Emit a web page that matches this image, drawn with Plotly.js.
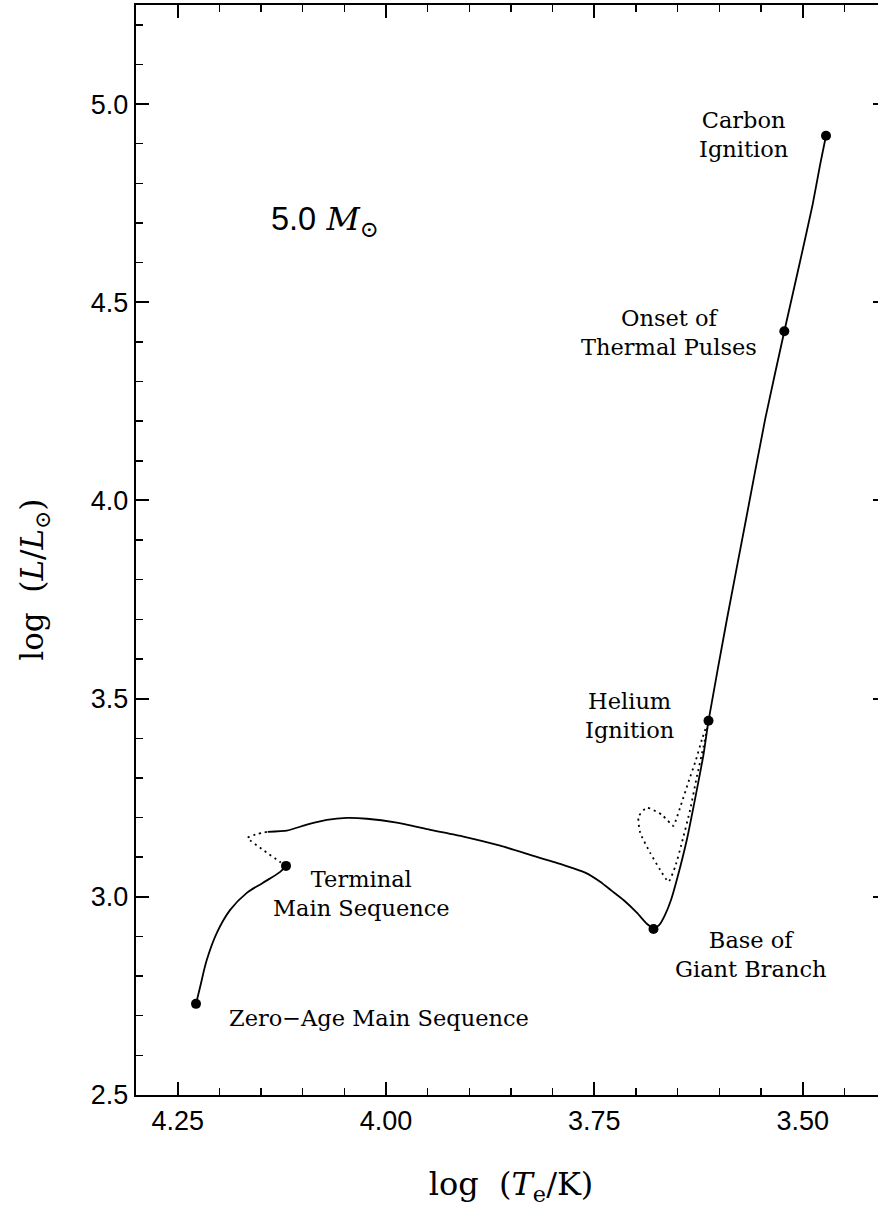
<!DOCTYPE html>
<html>
<head>
<meta charset="utf-8">
<script src="https://cdn.plot.ly/plotly-3.0.1.min.js"></script>
<style>
html, body { margin: 0; padding: 0; overflow: hidden; background: #fff; width: 878px; height: 1209px; }
#chart { width: 900px; height: 1209px; }
</style>
</head>
<body>
<div id="chart"></div>
<script>
// Main-sequence segment (solid): ZAMS -> terminal main sequence
const msLogT = [4.228, 4.223, 4.215, 4.203, 4.187, 4.167, 4.148, 4.127, 4.120];
const msLogL = [2.730, 2.773, 2.841, 2.909, 2.967, 3.010, 3.035, 3.063, 3.078];

// Overall contraction hook (dotted)
const hookLogT = [4.120, 4.127, 4.148, 4.166, 4.154, 4.142];
const hookLogL = [3.078, 3.088, 3.119, 3.149, 3.159, 3.164];

// Crossing of the Hertzsprung gap (solid) to the base of the giant branch
const gapLogT = [4.142, 4.119, 4.095, 4.071, 4.047, 4.023, 3.987, 3.947, 3.907, 3.863, 3.827, 3.791, 3.761, 3.743, 3.729, 3.715, 3.699, 3.687, 3.679];
const gapLogL = [3.164, 3.167, 3.182, 3.194, 3.199, 3.197, 3.187, 3.169, 3.152, 3.129, 3.106, 3.083, 3.061, 3.038, 3.015, 2.992, 2.960, 2.932, 2.919];

// Red giant branch and asymptotic giant branch (solid)
const giantLogT = [3.679, 3.672, 3.665, 3.658, 3.651, 3.639, 3.627, 3.619, 3.613, 3.591, 3.568, 3.545, 3.522, 3.503, 3.488, 3.479, 3.472];
const giantLogL = [2.919, 2.929, 2.955, 2.992, 3.043, 3.144, 3.270, 3.359, 3.444, 3.699, 3.952, 4.205, 4.427, 4.604, 4.747, 4.848, 4.920];

// Helium-burning blue loop (dotted)
const loopLogT = [3.613, 3.621, 3.628, 3.637, 3.646, 3.652, 3.655, 3.669, 3.687, 3.697, 3.695, 3.683, 3.671, 3.661, 3.653, 3.645, 3.635, 3.627, 3.619, 3.613];
const loopLogL = [3.444, 3.396, 3.346, 3.290, 3.232, 3.194, 3.179, 3.207, 3.225, 3.202, 3.162, 3.111, 3.068, 3.038, 3.076, 3.136, 3.220, 3.303, 3.379, 3.444];

// Evolutionary stages (marked points)
const stageNames = ["Zero\u2212Age Main Sequence", "Terminal<br>Main Sequence", "Base of<br>Giant Branch", "Helium<br>Ignition", "Onset of<br>Thermal Pulses", "Carbon<br>Ignition"];
const stageLogT = [4.228, 4.120, 3.679, 3.613, 3.522, 3.472];
const stageLogL = [2.730, 3.078, 2.919, 3.444, 4.427, 4.920];

// Label anchor positions (data coordinates)
const labelLogT = [4.009, 4.029, 3.562, 3.708, 3.660, 3.571];
const labelLogL = [2.694, 3.008, 2.854, 3.457, 4.424, 4.923];

const massValue = "5.0";
const massUnit = "<i>M</i><sub>\u2299</sub>";
const massLabelLogT = 4.073;
const massLabelLogL = 4.705;

const xTickVals = [4.25, 4.00, 3.75, 3.50];
const xTickText = ["4.25", "4.00", "3.75", "3.50"];
const yTickVals = [2.5, 3.0, 3.5, 4.0, 4.5, 5.0];
const yTickText = ["2.5", "3.0", "3.5", "4.0", "4.5", "5.0"];

const xTitle = "log  (<i>T</i><sub>e</sub>/K)";
const yTitle = "log  (<i>L</i>/<i>L</i><sub>\u2299</sub>)";

const solid = {color: "#000", width: 1.8, dash: "solid", shape: "spline", smoothing: 0.5};
const solidSmooth = {color: "#000", width: 1.8, dash: "solid", shape: "spline", smoothing: 1};
const dotted = {color: "#000", width: 1.8, dash: "2px,4px", shape: "spline", smoothing: 0.5};

const traces = [
  {x: msLogT, y: msLogL, mode: "lines", line: solidSmooth, name: "Main sequence", hoverinfo: "skip"},
  {x: hookLogT, y: hookLogL, mode: "lines", line: dotted, name: "Hook", hoverinfo: "skip"},
  {x: gapLogT, y: gapLogL, mode: "lines", line: solid, name: "Hertzsprung gap", hoverinfo: "skip"},
  {x: giantLogT, y: giantLogL, mode: "lines", line: solid, name: "Giant branch", hoverinfo: "skip"},
  {x: loopLogT, y: loopLogL, mode: "lines", line: dotted, name: "Blue loop", hoverinfo: "skip"},
  {x: stageLogT, y: stageLogL, mode: "markers", marker: {color: "#000", size: 10}, name: "Stages", hoverinfo: "skip"}
];

const labelFont = {family: "DejaVu Serif, serif", size: 22.5, color: "#000"};
const annotations = stageNames.map((s, i) => ({
  x: labelLogT[i], y: labelLogL[i], xref: "x", yref: "y",
  text: s, showarrow: false, font: labelFont, align: "center",
  xanchor: "center", yanchor: "middle"
}));
annotations.push({
  x: massLabelLogT, y: massLabelLogL, xref: "x", yref: "y",
  text: "<span style=\"font-family:'Liberation Sans', Arial, sans-serif\">" + massValue + "</span> " + massUnit,
  showarrow: false,
  font: {family: "DejaVu Serif, serif", size: 32.5, color: "#000"},
  xanchor: "center", yanchor: "middle"
});
// y-axis title placed as rotated annotation so it sits where the reference has it
annotations.push({
  x: 0, y: 0.4727, xref: "paper", yref: "paper",
  xshift: -101, text: yTitle, textangle: -90, showarrow: false,
  font: {family: "DejaVu Serif, serif", size: 31, color: "#000"},
  xanchor: "center", yanchor: "middle"
});

const tickFont = {family: "Liberation Sans, Arial, sans-serif", size: 27, color: "#000"};
const titleFont = {family: "DejaVu Serif, serif", size: 32, color: "#000"};

const layout = {
  width: 900, height: 1209,
  margin: {l: 136, r: 14, t: 5, b: 114},
  paper_bgcolor: "#fff", plot_bgcolor: "#fff",
  showlegend: false,
  xaxis: {
    range: [4.30, 3.40],
    tickmode: "array", tickvals: xTickVals, ticktext: xTickText,
    ticks: "inside", ticklen: 13, tickwidth: 2, tickcolor: "#000",
    minor: {tickmode: "linear", tick0: 3.5, dtick: 0.05, ticks: "inside", ticklen: 7, tickwidth: 1.5, tickcolor: "#000"},
    showline: true, linewidth: 2.2, linecolor: "#000", mirror: "ticks",
    showgrid: false, zeroline: false,
    tickfont: tickFont,
    title: {text: xTitle, font: titleFont, standoff: 38}
  },
  yaxis: {
    range: [2.5, 5.25],
    tickmode: "array", tickvals: yTickVals, ticktext: yTickText,
    ticks: "inside", ticklen: 13, tickwidth: 2, tickcolor: "#000",
    minor: {tickmode: "linear", tick0: 2.5, dtick: 0.1, ticks: "inside", ticklen: 7, tickwidth: 1.5, tickcolor: "#000"},
    showline: true, linewidth: 2.2, linecolor: "#000", mirror: "ticks",
    showgrid: false, zeroline: false,
    tickfont: tickFont
  },
  annotations: annotations
};

Plotly.newPlot("chart", traces, layout, {displayModeBar: false, responsive: false, staticPlot: true});
</script>
</body>
</html>
